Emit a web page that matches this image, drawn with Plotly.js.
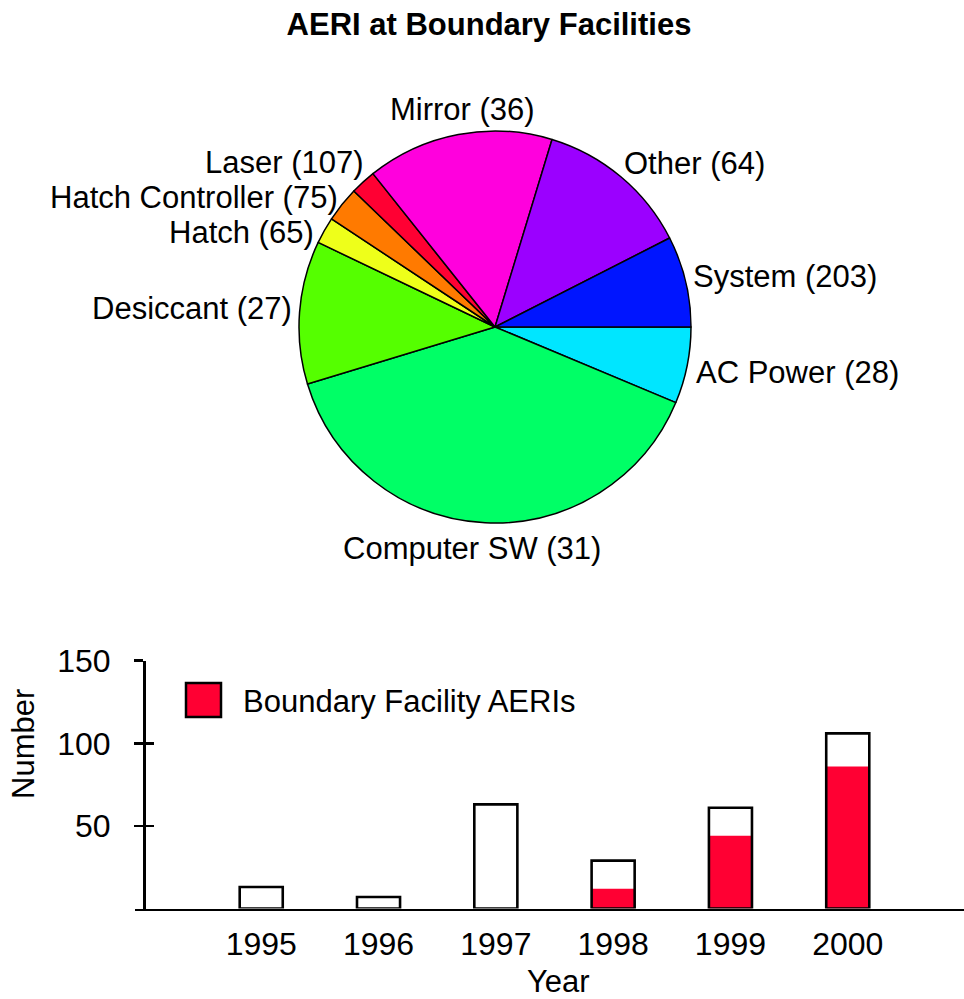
<!DOCTYPE html>
<html>
<head>
<meta charset="utf-8">
<script src="https://cdn.plot.ly/plotly-3.0.1.min.js"></script>
<style>html,body{margin:0;padding:0;background:#fff;}</style>
</head>
<body>
<div id="chart" style="width:964px;height:999px;"></div>
<script>
// Pie: categories in clockwise order starting at 3 o'clock
const pieLabels = ['AC Power', 'Computer SW', 'Desiccant', 'Hatch', 'Hatch Controller', 'Laser', 'Mirror', 'Other', 'System'];
const pieCounts = [28, 31, 27, 65, 75, 107, 36, 64, 203];   // numbers shown in labels
const pieShares = [6.3, 39.0, 11.8, 2.2, 2.9, 2.1, 15.4, 12.8, 7.5];
const pieColors = ['#00E6FF', '#00FF66', '#55FF00', '#EEFF1A', '#FF7A00', '#FF0033', '#FF00DD', '#9B00FF', '#0015FF'];

// Bars
const years = [1995, 1996, 1997, 1998, 1999, 2000];
const totalAERIs = [13, 7, 63, 29, 61, 106];
const boundaryAERIs = [0, 0, 0, 12, 44, 86];

const FONT = '"Liberation Sans", Arial, Helvetica, sans-serif';
const W = 964, H = 999;
const px = v => v / W;
const py = v => (H - v) / H;

const pieText = pieLabels.map((l, i) => l + ' (' + pieCounts[i] + ')');

// label placement (pixels): anchor x, centre y, horizontal anchor
const labelPos = [
  [695, 372, 'left'],    // AC Power
  [472, 549, 'center'],  // Computer SW
  [293, 308, 'right'],   // Desiccant
  [315, 233, 'right'],   // Hatch
  [339, 198, 'right'],   // Hatch Controller
  [365, 162, 'right'],   // Laser
  [462, 110, 'center'],  // Mirror
  [623, 163, 'left'],    // Other
  [692, 277, 'left']     // System
];

const traces = [
  {
    type: 'pie',
    labels: pieLabels,
    values: pieShares,
    textinfo: 'none',
    sort: false,
    direction: 'clockwise',
    rotation: 90,
    marker: {colors: pieColors, line: {color: '#000', width: 1.5}},
    domain: {x: [px(495 - 196), px(495 + 196)], y: [py(327 + 196), py(327 - 196)]},
    hoverinfo: 'label+percent',
    showlegend: false
  },
  {
    type: 'bar',
    x: years,
    y: boundaryAERIs,
    width: 0.367,
    marker: {color: '#FF0033', line: {width: 0}},
    name: 'Boundary Facility AERIs',
    showlegend: false,
    xaxis: 'x', yaxis: 'y'
  },
  {
    type: 'bar',
    x: years,
    y: totalAERIs,
    width: 0.367,
    marker: {color: 'rgba(0,0,0,0)', line: {color: '#000', width: 2.6}},
    name: 'All AERIs',
    showlegend: false,
    xaxis: 'x', yaxis: 'y'
  },
  // invisible point so the overlay axis (crossing ticks) is drawn
  {type: 'scatter', x: [1994.5], y: [0], xaxis: 'x', yaxis: 'y2', mode: 'markers',
   marker: {opacity: 0}, showlegend: false, hoverinfo: 'skip'}
];

const annotations = pieText.map((t, i) => ({
  text: t, xref: 'paper', yref: 'paper',
  x: px(labelPos[i][0]), y: py(labelPos[i][1]),
  xanchor: labelPos[i][2], yanchor: 'middle', showarrow: false,
  borderpad: 0,
  font: {family: FONT, size: 31, color: '#000'}
}));

annotations.push(
  {text: 'Boundary Facility AERIs', xref: 'paper', yref: 'paper',
   x: px(241), y: py(701), xanchor: 'left', yanchor: 'middle', showarrow: false,
   font: {family: FONT, size: 31, color: '#000'}},
  {text: 'Number', xref: 'paper', yref: 'paper', textangle: -90,
   x: px(23), y: py(744), xanchor: 'center', yanchor: 'middle', showarrow: false,
   font: {family: FONT, size: 31, color: '#000'}},
  {text: 'Year', xref: 'paper', yref: 'paper',
   x: px(558), y: py(981), xanchor: 'center', yanchor: 'middle', showarrow: false,
   font: {family: FONT, size: 31, color: '#000'}}
);

const layout = {
  width: W, height: H,
  margin: {l: 0, r: 0, t: 0, b: 0},
  paper_bgcolor: '#fff',
  plot_bgcolor: 'rgba(0,0,0,0)',
  barmode: 'overlay',
  showlegend: false,
  title: {
    text: '<b>AERI at Boundary Facilities</b>',
    font: {family: FONT, size: 31, color: '#000'},
    x: px(489), xref: 'paper', xanchor: 'center',
    y: py(24), yref: 'paper', yanchor: 'middle'
  },
  xaxis: {
    domain: [px(135), 1],
    anchor: 'y',
    range: [1993.924, 2000.991],
    tickvals: years,
    ticktext: years.map(String),
    ticks: '',
    showline: true, linecolor: '#000', linewidth: 2.5,
    showgrid: false, zeroline: false,
    ticklabelstandoff: 6,
    tickfont: {family: FONT, size: 32, color: '#000'}
  },
  yaxis: {
    domain: [py(908.5), py(660.7)],
    anchor: 'free', position: px(144),
    range: [0, 150],
    tickvals: [50, 100, 150],
    ticks: 'outside', ticklen: 9, tickwidth: 2.5, tickcolor: '#000',
    showline: true, linecolor: '#000', linewidth: 2.5,
    showgrid: false, zeroline: false,
    ticklabelstandoff: 17,
    tickfont: {family: FONT, size: 32, color: '#000'}
  },
  yaxis2: {
    overlaying: 'y',
    anchor: 'free', position: px(144),
    range: [0, 150],
    tickvals: [50, 100, 150],
    ticks: 'inside', ticklen: 9, tickwidth: 2.5, tickcolor: '#000',
    showticklabels: false, showline: false, showgrid: false, zeroline: false
  },
  shapes: [
    {type: 'rect', xref: 'paper', yref: 'paper',
     x0: px(186), x1: px(221), y0: py(717), y1: py(683),
     fillcolor: '#FF0033', line: {color: '#000', width: 2.5}}
  ],
  annotations: annotations
};

Plotly.newPlot('chart', traces, layout, {displayModeBar: false, staticPlot: true});
</script>
</body>
</html>
